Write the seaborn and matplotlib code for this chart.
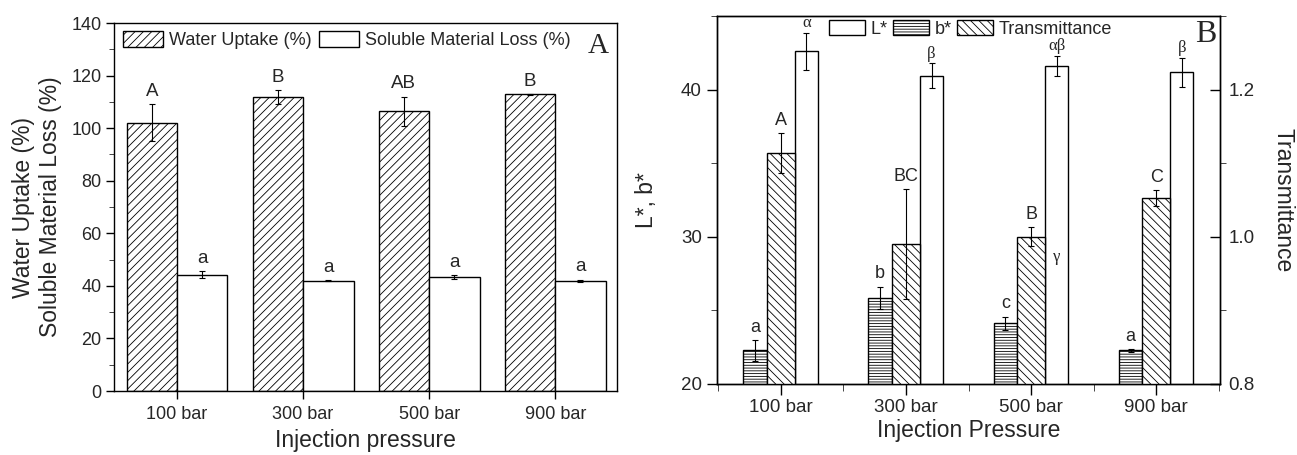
import numpy as np
import pandas as pd
import matplotlib
matplotlib.use("Agg")
import matplotlib.pyplot as plt
import seaborn as sns
from matplotlib.patches import Patch
from matplotlib.ticker import MultipleLocator

# ---------------- data ----------------
pressures = ["100 bar", "300 bar", "500 bar", "900 bar"]

water_uptake = [102.1, 111.9, 106.4, 112.9]
water_err = [7.0, 2.6, 5.6, 0.2]
soluble_loss = [44.2, 41.9, 43.3, 41.9]
soluble_err = [1.3, 0.2, 0.8, 0.5]
water_letters = ["A", "B", "AB", "B"]
soluble_letters = ["a", "a", "a", "a"]

L_star = [42.6, 40.94, 41.6, 41.17]
L_err = [1.27, 0.85, 0.7, 1.0]
b_star = [22.28, 25.87, 24.13, 22.28]
b_err = [0.7, 0.75, 0.45, 0.1]
transmittance = [1.114, 0.990, 1.000, 1.053]
trans_err = [0.027, 0.075, 0.0127, 0.011]
L_letters = ["α", "β", "αβ", "β"]
b_letters = ["a", "b", "c", "a"]
trans_letters = ["A", "BC", "B", "C"]
extra_L_letter = "γ"   # printed beside the 500 bar group
extra_L_value = 28.6

# ---------------- style ----------------
sns.set_style("ticks")
plt.rcParams["font.family"] = ["Liberation Sans", "DejaVu Sans"]
plt.rcParams["hatch.linewidth"] = 0.6
plt.rcParams["axes.linewidth"] = 1.0

W, H = 1297, 455
fig = plt.figure(figsize=(W / 100, H / 100), dpi=100)
axA = fig.add_axes([114 / W, 1 - 391 / H, (617 - 114) / W, (391 - 23) / H])
axB = fig.add_axes([717 / W, 1 - 384 / H, (1220 - 717) / W, (384 - 16) / H])

cats = np.arange(len(pressures))
bar_kw = dict(edgecolor="black", linewidth=1.0, saturation=1, errorbar=None,
              native_scale=True, orient="x")
err_kw = dict(fmt="none", ecolor="black", elinewidth=0.8, capsize=2.5,
              capthick=0.8, zorder=5)


def bars(ax, offset, width, vals, errs, hatch, letters, fs=13, family=None, pad=3):
    pos = cats + offset
    df = pd.DataFrame({"pos": pos, "value": vals})
    sns.barplot(data=df, x="pos", y="value", ax=ax, width=width,
                color="white", hatch=hatch, **bar_kw)
    ax.errorbar(pos, vals, yerr=errs, **err_kw)
    for x, v, e, t in zip(pos, vals, errs, letters):
        kw = dict(textcoords="offset points", ha="center", va="bottom",
                  fontsize=fs, zorder=6)
        if family:
            kw["family"] = family
        ax.annotate(t, (x, v + e), xytext=(0, pad), **kw)


# ---------------- panel A ----------------
bars(axA, -0.2, 0.4, water_uptake, water_err, "////", water_letters, fs=13.5)
bars(axA, 0.2, 0.4, soluble_loss, soluble_err, "", soluble_letters, fs=13.5)
axA.set_xlim(-0.5, 3.49)
axA.set_ylim(0, 140)
axA.set_xticks(cats)
axA.set_xticklabels(pressures)
axA.yaxis.set_major_locator(MultipleLocator(20))
axA.yaxis.set_minor_locator(MultipleLocator(10))
axA.tick_params(axis="both", direction="out", labelsize=13, width=1.0, color="black")
axA.tick_params(axis="x", length=6, pad=5)
axA.tick_params(axis="y", which="major", length=6, pad=3)
axA.tick_params(axis="y", which="minor", length=3.5)
for s in axA.spines.values():
    s.set_visible(True)
    s.set_color("black")
axA.set_xlabel("Injection pressure", fontsize=16.5)
axA.xaxis.label.set_va("center")
axA.xaxis.set_label_coords(0.5, (391 - 441) / 368)
axA.set_ylabel("Water Uptake (%)\nSoluble Material Loss (%)", fontsize=16.5,
               linespacing=1.2)
axA.yaxis.label.set_va("center")
axA.yaxis.label.set_ha("center")
axA.yaxis.set_label_coords((37 - 114) / 503, 0.5)
axA.text(0.962, 0.9375, "A", transform=axA.transAxes, fontsize=21,
         family="Liberation Serif", ha="center", va="center")
handlesA = [Patch(facecolor="white", edgecolor="black", hatch="////", label="Water Uptake (%)"),
            Patch(facecolor="white", edgecolor="black", label="Soluble Material Loss (%)")]
axA.legend(handles=handlesA, loc="upper left", bbox_to_anchor=((123 - 114) / 503, 0.978),
           ncol=2, frameon=False, fontsize=13, borderpad=0, borderaxespad=0,
           handlelength=2.2, handleheight=1.0, handletextpad=0.35, columnspacing=0.4)

# ---------------- panel B ----------------
axB2 = axB.twinx()
bars(axB, -0.205, 0.19, b_star, b_err, "------", b_letters, fs=13)
bars(axB, 0.205, 0.185, L_star, L_err, "", L_letters, fs=12,
     family="Liberation Serif", pad=1)
bars(axB2, 0.0, 0.22, transmittance, trans_err, "\\\\\\\\", trans_letters, fs=13)
axB.annotate(extra_L_letter, (2 + 0.205, extra_L_value), ha="center", va="center",
             fontsize=12, family="Liberation Serif")

for ax in (axB, axB2):
    ax.set_xlim(-0.51, 3.51)
axB.set_ylim(20, 45)
axB2.set_ylim(0.8, 1.3)
axB.set_xticks(cats)
axB.set_xticklabels(pressures)
axB.xaxis.set_minor_locator(MultipleLocator(0.5))
axB.yaxis.set_major_locator(MultipleLocator(10))
axB.yaxis.set_minor_locator(MultipleLocator(5))
axB2.yaxis.set_major_locator(MultipleLocator(0.2))
axB2.yaxis.set_minor_locator(MultipleLocator(0.1))
axB2.set_yticks([0.8, 1.0, 1.2])
axB2.set_yticklabels(["0.8", "1.0", "1.2"])
axB.tick_params(axis="both", direction="out", labelsize=13.5, width=1.0, color="black")
axB.tick_params(axis="x", which="major", length=8, pad=3)
axB.tick_params(axis="x", which="minor", length=5)
axB.tick_params(axis="y", which="major", length=7, pad=4)
axB.tick_params(axis="y", which="minor", length=4)
axB2.tick_params(axis="y", direction="in", labelsize=13.5, width=1.0, color="black")
axB2.tick_params(axis="y", which="major", length=7, pad=6)
axB2.tick_params(axis="y", which="minor", length=4)
axB2.tick_params(axis="x", which="both", bottom=False, top=False, labelbottom=False)
for ax in (axB, axB2):
    for s in ax.spines.values():
        s.set_visible(True)
        s.set_color("black")
axB.set_xlabel("Injection Pressure", fontsize=16.5)
axB.xaxis.label.set_va("center")
axB.xaxis.set_label_coords(0.5, (384 - 430) / 368)
axB.set_ylabel("L*, b*", fontsize=16.5)
axB.yaxis.label.set_va("center")
axB.yaxis.set_label_coords((647 - 717) / 503, 0.5)
axB2.set_ylabel("Transmittance", fontsize=16.5, rotation=270)
axB2.yaxis.label.set_va("center")
axB2.yaxis.set_label_coords((1283 - 717) / 503, 0.5)
axB.text(0.972, 0.951, "B", transform=axB.transAxes, fontsize=23,
         family="Liberation Serif", ha="center", va="center", zorder=10)
handlesB = [Patch(facecolor="white", edgecolor="black", label="L*"),
            Patch(facecolor="white", edgecolor="black", hatch="------", label="b*"),
            Patch(facecolor="white", edgecolor="black", hatch="\\\\\\\\", label="Transmittance")]
axB2.legend(handles=handlesB, loc="upper left", bbox_to_anchor=((829 - 717) / 503, 0.99),
            ncol=3, frameon=False, fontsize=13, borderpad=0, borderaxespad=0,
            handlelength=2.0, handleheight=0.95, handletextpad=0.3, columnspacing=0.3)

fig.savefig("out.png", dpi=100)
